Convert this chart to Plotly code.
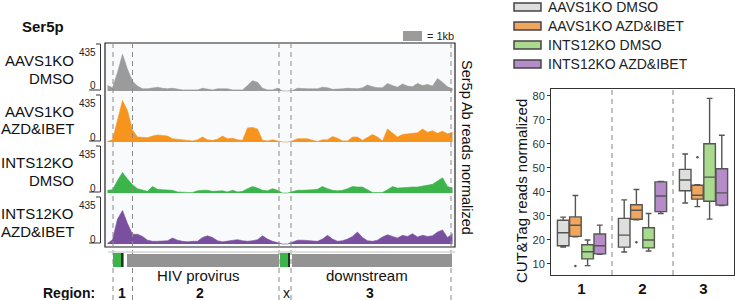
import plotly.graph_objects as go

W, H = 735, 300
def px(x): return x / W
def py(y): return 1 - y / H

FONT = "Liberation Sans, Arial, sans-serif"

# ---------------- coverage tracks (70 bins across the locus, reads 0-435) -------------
track_names = [("AAVS1KO", "DMSO"), ("AAVS1KO", "AZD&IBET"), ("INTS12KO", "DMSO"), ("INTS12KO", "AZD&IBET")]
track_colors = ["#9b9b9b", "#f7941d", "#3bb54a", "#7b4f9f"]
track_max = 435

aavs_dmso = [50, 30, 170, 340, 200, 90, 45, 20, 20, 25, 35, 25, 20, 25, 15, 10, 10, 12, 10, 25,
             15, 10, 20, 20, 20, 10, 10, 10, 50, 95, 80, 25, 10, 10, 25, 0, 0, 5, 25, 20,
             20, 20, 20, 35, 30, 15, 15, 20, 25, 25, 20, 30, 55, 40, 30, 30, 70, 50, 35, 65,
             45, 40, 70, 50, 60, 45, 115, 80, 40, 20]
aavs_azd = [5, 20, 200, 385, 290, 110, 45, 45, 40, 55, 65, 60, 55, 30, 25, 15, 10, 10, 20, 45,
            20, 15, 25, 55, 30, 35, 20, 15, 130, 135, 120, 15, 10, 20, 10, 0, 0, 10, 30, 30,
            30, 15, 5, 20, 20, 50, 35, 10, 10, 45, 45, 15, 40, 70, 45, 10, 120, 85, 45, 70,
            75, 80, 85, 120, 90, 105, 80, 100, 75, 90]
ints_dmso = [25, 30, 115, 190, 130, 75, 40, 30, 15, 60, 35, 30, 30, 25, 10, 5, 5, 5, 20, 25,
             25, 15, 15, 20, 10, 25, 10, 15, 40, 60, 45, 25, 20, 40, 25, 0, 0, 15, 25, 25,
             25, 30, 35, 60, 40, 25, 20, 25, 40, 60, 55, 55, 30, 5, 5, 5, 30, 60, 45, 50,
             55, 55, 55, 65, 70, 80, 110, 140, 60, 45]
ints_azd = [5, 40, 230, 310, 190, 90, 90, 70, 35, 25, 25, 25, 30, 55, 35, 25, 20, 25, 25, 60,
            75, 60, 30, 20, 25, 35, 40, 30, 25, 30, 40, 75, 45, 25, 15, 0, 0, 20, 35, 35,
            30, 25, 25, 45, 80, 45, 25, 30, 45, 70, 110, 60, 30, 25, 35, 65, 85, 70, 55, 80,
            70, 95, 65, 80, 70, 75, 110, 130, 60, 95]
tracks = [aavs_dmso, aavs_azd, ints_dmso, ints_azd]
bins = list(range(len(aavs_dmso)))

# region boundaries / gene features in bin units
region_bounds = [1.1, 5.0, 34.3, 36.7, 68.7]
green_features = [(1.1, 3.3), (34.5, 36.5)]
grey_features = [(3.9, 34.3), (36.9, 68.9)]
tss_marks = [2.9, 36.3]

# ---------------- box plot data (CUT&Tag reads normalized) -------------
regions = [1, 2, 3]
box_names = ["AAVS1KO DMSO", "AAVS1KO AZD&IBET", "INTS12KO DMSO", "INTS12KO AZD&IBET"]
box_colors = ["#dcdfdc", "#f0a65e", "#a9da8e", "#b58bc8"]
box_offsets = [-0.3, -0.1, 0.1, 0.3]
q1 = [[17.6, 17.0, 40.5], [21.5, 28.6, 37.0], [12.1, 16.7, 36.1], [14.2, 31.8, 34.5]]
med = [[23.0, 22.0, 45.0], [26.1, 32.4, 38.6], [15.1, 20.0, 46.2], [17.6, 38.3, 39.6]]
q3 = [[28.2, 29.0, 49.4], [29.6, 34.7, 42.8], [18.0, 25.1, 60.1], [22.5, 44.2, 49.7]]
lo = [[17.0, 15.0, 35.4], [21.3, 28.4, 33.9], [9.3, 15.4, 28.7], [14.0, 31.0, 34.3]]
hi = [[29.5, 36.7, 55.8], [38.5, 41.0, 43.0], [20.0, 31.0, 79.0], [26.2, 44.4, 63.6]]
outlier_series = 1
outlier_vals = [9.2, 19.0, 54.5]

fig = go.Figure()

panel_tops = [43, 94, 145, 196]
panel_h = 51
layout_axes = {}
for i, (vals, col) in enumerate(zip(tracks, track_colors)):
    yname = "y" if i == 0 else f"y{i+1}"
    fig.add_trace(go.Scatter(x=bins, y=vals, mode="lines", fill="tozeroy",
                             line=dict(color=col, width=0.6), fillcolor=col,
                             xaxis="x", yaxis=yname, showlegend=False, hoverinfo="skip"))
    top = panel_tops[i]
    key = "yaxis" if i == 0 else f"yaxis{i+1}"
    layout_axes[key] = dict(domain=[py(top + panel_h), py(top)], range=[-28, 444],
                            visible=False, fixedrange=True, anchor="x")

# boxes
for s in range(4):
    fig.add_trace(go.Box(x=[r + box_offsets[s] for r in regions], q1=q1[s], median=med[s], q3=q3[s],
                         lowerfence=lo[s], upperfence=hi[s], width=0.19, whiskerwidth=0.5,
                         fillcolor=box_colors[s], line=dict(color="#555555", width=1.4),
                         boxpoints=False, xaxis="x2", yaxis="y5", showlegend=False, name=box_names[s]))
fig.add_trace(go.Scatter(x=[r + box_offsets[outlier_series] for r in regions], y=outlier_vals,
                         mode="markers", marker=dict(color="#555555", size=2.5),
                         xaxis="x2", yaxis="y5", showlegend=False))

shapes = []
ann = []
# track background + frame
shapes.append(dict(type="rect", xref="paper", yref="paper", x0=px(105), x1=px(455), y0=py(247), y1=py(43),
                   fillcolor="#f9fafc", line=dict(width=0), layer="below"))
shapes.append(dict(type="rect", xref="paper", yref="paper", x0=px(105), x1=px(455), y0=py(247), y1=py(43),
                   line=dict(color="#222222", width=1.2), layer="above"))
# dashed region boundaries
for b in region_bounds:
    shapes.append(dict(type="line", xref="x", yref="paper", x0=b, x1=b, y0=0, y1=py(43),
                       line=dict(color="#8a8a8a", width=1, dash="5px,4px")))
# gene annotation
shapes.append(dict(type="line", xref="paper", yref="paper", x0=px(108), x1=px(455), y0=py(252), y1=py(252),
                   line=dict(color="#d4d4d4", width=1.5)))
for a, b in grey_features:
    shapes.append(dict(type="rect", xref="x", yref="paper", x0=a, x1=b, y0=py(267), y1=py(254),
                       fillcolor="#939393", line=dict(width=0)))
for a, b in green_features:
    shapes.append(dict(type="rect", xref="x", yref="paper", x0=a, x1=b, y0=py(267), y1=py(253),
                       fillcolor="#3bb54a", line=dict(width=0)))
for t in tss_marks:
    shapes.append(dict(type="line", xref="x", yref="paper", x0=t, x1=t, y0=py(267), y1=py(253),
                       line=dict(color="#111111", width=1.5)))
# scale bar
shapes.append(dict(type="rect", xref="paper", yref="paper", x0=px(403), x1=px(422), y0=py(41), y1=py(31),
                   fillcolor="#9b9b9b", line=dict(width=0)))
ann.append(dict(x=px(425), y=py(36), xref="paper", yref="paper", text="= 1kb", showarrow=False,
                xanchor="left", yanchor="middle", font=dict(size=11, color="#222")))

# track labels and brackets
for i, (l1, l2) in enumerate(track_names):
    top = panel_tops[i]
    ann.append(dict(x=px(76), y=py(top + 17.5), xref="paper", yref="paper", text=l1, showarrow=False,
                    xanchor="right", yanchor="middle", font=dict(size=15, color="#111")))
    ann.append(dict(x=px(76), y=py(top + 35), xref="paper", yref="paper", text=l2, showarrow=False,
                    xanchor="right", yanchor="middle", font=dict(size=15, color="#111")))
    ann.append(dict(x=px(97.5), y=py(top + 9.5), xref="paper", yref="paper", text=str(track_max), showarrow=False,
                    xanchor="right", yanchor="middle", font=dict(size=10, color="#222")))
    ann.append(dict(x=px(97.5), y=py(top + 43), xref="paper", yref="paper", text="0", showarrow=False,
                    xanchor="right", yanchor="middle", font=dict(size=10, color="#222")))
    for (xa, xb, yy) in [(96, 100.5, top + 1), (89, 100.5, top + 47)]:
        shapes.append(dict(type="line", xref="paper", yref="paper", x0=px(xa), x1=px(xb), y0=py(yy), y1=py(yy),
                           line=dict(color="#333", width=1)))
    shapes.append(dict(type="line", xref="paper", yref="paper", x0=px(100.5), x1=px(100.5), y0=py(top + 47), y1=py(top + 1),
                       line=dict(color="#333", width=1)))

ann.append(dict(x=px(20), y=py(27), xref="paper", yref="paper", text="<b>Ser5p</b>", showarrow=False,
                xanchor="left", yanchor="middle", font=dict(size=15, color="#111")))
ann.append(dict(x=px(467), y=py(147), xref="paper", yref="paper", text="Ser5p Ab reads normalized", showarrow=False,
                textangle=90, xanchor="center", yanchor="middle", font=dict(size=14.5, color="#111")))
ann.append(dict(x=px(198), y=py(275), xref="paper", yref="paper", text="HIV provirus", showarrow=False,
                xanchor="center", yanchor="middle", font=dict(size=15, color="#111")))
ann.append(dict(x=px(367), y=py(275), xref="paper", yref="paper", text="downstream", showarrow=False,
                xanchor="center", yanchor="middle", font=dict(size=15, color="#111")))
ann.append(dict(x=px(97), y=py(293), xref="paper", yref="paper", text="<b>Region:</b>", showarrow=False,
                xanchor="right", yanchor="middle", font=dict(size=14, color="#111")))
for txt, xx in [("<b>1</b>", 122), ("<b>2</b>", 200), ("x", 286), ("<b>3</b>", 370)]:
    ann.append(dict(x=px(xx), y=py(293), xref="paper", yref="paper", text=txt, showarrow=False,
                    xanchor="center", yanchor="middle", font=dict(size=14, color="#111")))

# box plot separators
for b in [1.5, 2.5]:
    shapes.append(dict(type="line", xref="x2", yref="paper", x0=b, x1=b, y0=py(275), y1=py(89),
                       line=dict(color="#999999", width=1.2, dash="5px,4px"), layer="below"))
ann.append(dict(x=px(521), y=py(191), xref="paper", yref="paper", text="CUT&Tag reads normalized", showarrow=False,
                textangle=-90, xanchor="center", yanchor="middle", font=dict(size=15, color="#111")))

# legend (manual)
for s in range(4):
    yc = 7 + 19 * s
    shapes.append(dict(type="rect", xref="paper", yref="paper", x0=px(514), x1=px(541), y0=py(yc + 4), y1=py(yc - 4),
                       fillcolor=box_colors[s], line=dict(color="#444", width=1.5)))
    ann.append(dict(x=px(546), y=py(yc), xref="paper", yref="paper", text=box_names[s], showarrow=False,
                    xanchor="left", yanchor="middle", font=dict(size=14, color="#222")))

fig.update_layout(
    width=W, height=H, margin=dict(l=0, r=0, t=0, b=0),
    paper_bgcolor="white", plot_bgcolor="white",
    font=dict(family=FONT, color="#111"),
    xaxis=dict(domain=[px(105), px(455)], range=[-0.5, 69.5], visible=False, fixedrange=True, anchor="y4"),
    xaxis2=dict(domain=[px(551), px(734)], range=[0.5, 3.5], tickvals=regions,
                ticktext=[f"<b>{r}</b>" for r in regions], tickfont=dict(size=15, color="#111"),
                showline=True, mirror=True, linecolor="#333", linewidth=1, ticks="", showgrid=False,
                zeroline=False, anchor="y5"),
    yaxis5=dict(domain=[py(275), py(89)], range=[5.4, 82.9], tickvals=[10, 20, 30, 40, 50, 60, 70, 80],
                tickfont=dict(size=11, color="#333"), ticks="outside", ticklen=3, tickcolor="#333",
                showline=True, mirror=True, linecolor="#333", linewidth=1, showgrid=False,
                zeroline=False, anchor="x2"),
    shapes=shapes, annotations=ann, showlegend=False,
)
fig.update_layout(**layout_axes)

fig.write_html("out.html", config={"displayModeBar": False},
               post_script="document.body.style.margin='0';document.body.style.overflow='hidden';")
